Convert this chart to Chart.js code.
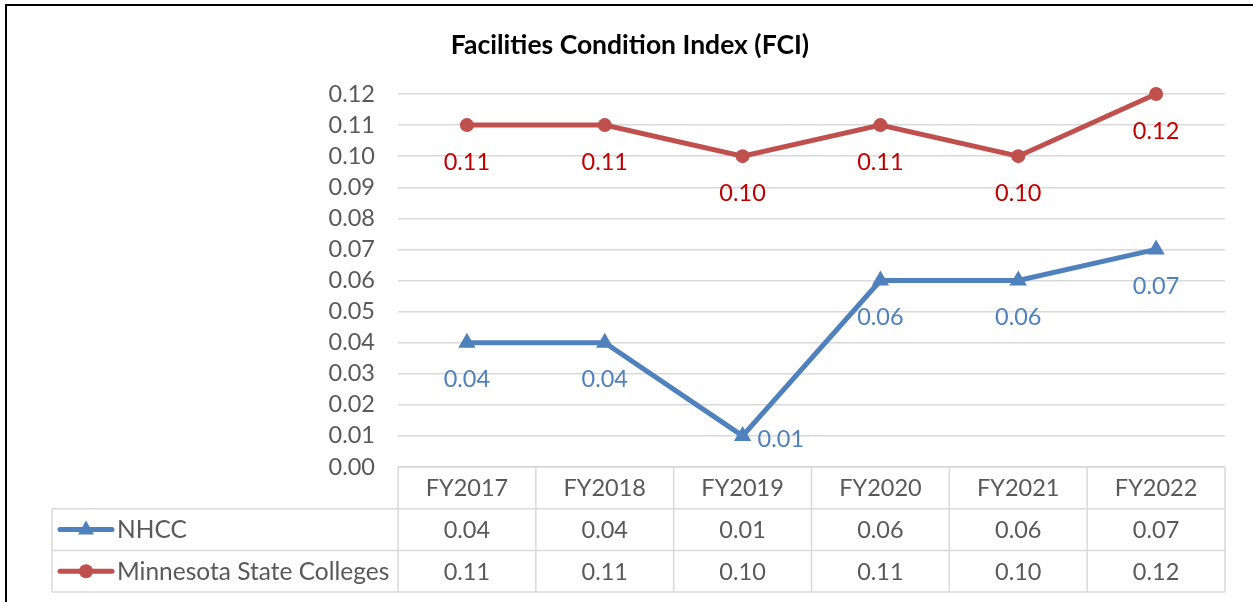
<!DOCTYPE html>
<html>
<head>
<meta charset="utf-8">
<script src="https://cdn.jsdelivr.net/npm/chart.js@4.4.1/dist/chart.umd.min.js"></script>
<style>
  html, body { margin: 0; padding: 0; background: #fff; }
  #wrap { position: relative; width: 1253px; height: 602px; }
</style>
</head>
<body>
<div id="wrap"><canvas id="c" width="1253" height="602"></canvas></div>
<script>
// ---- Data ----
const chartTitle = 'Facilities Condition Index (FCI)';
const categories = ['FY2017', 'FY2018', 'FY2019', 'FY2020', 'FY2021', 'FY2022'];
const seriesNames = ['NHCC', 'Minnesota State Colleges'];
const nhccValues = [0.04, 0.04, 0.01, 0.06, 0.06, 0.07];
const mscValues = [0.11, 0.11, 0.10, 0.11, 0.10, 0.12];
const yMin = 0, yMax = 0.12, yStep = 0.01;

// ---- Styles ----
const FONT = 'Lato, "Open Sans", sans-serif';
const TEXT_GRAY = '#595959';
const GRID = '#d9d9d9';
const BLUE = '#4f81bd';
const RED = '#c0504d';
const BLUE_LABEL = '#4f81bd';
const RED_LABEL = '#c00000';
const NUM_SIZE = 23.5;
// label placement per series (index -> placement), default 'below'
const labelPlacement = [{2: 'right'}, {}];

const framePlugin = {
  id: 'frame',
  beforeDraw(chart) {
    const ctx = chart.ctx;
    ctx.save();
    ctx.fillStyle = '#fff';
    ctx.fillRect(0, 0, chart.width, chart.height);
    ctx.fillStyle = '#000';
    ctx.fillRect(5, 4, chart.width - 5, 2);
    ctx.fillRect(5, 4, 2, chart.height - 4);
    // title
    ctx.font = 'bold 26.5px ' + FONT;
    ctx.textAlign = 'center';
    ctx.textBaseline = 'middle';
    ctx.fillText(chartTitle, 630, 45);
    ctx.restore();
  }
};

const tablePlugin = {
  id: 'dataTable',
  afterDraw(chart) {
    const ctx = chart.ctx;
    const xs = chart.scales.x;
    const area = chart.chartArea;
    const n = categories.length;
    const colW = (area.right - area.left) / n;
    const rowH = 41.7;
    const top = area.bottom;
    const legLeft = 52;
    ctx.save();
    ctx.strokeStyle = GRID;
    ctx.lineWidth = 1.5;
    const hline = (y, x0, x1) => { ctx.beginPath(); ctx.moveTo(x0, y); ctx.lineTo(x1, y); ctx.stroke(); };
    const vline = (x, y0, y1) => { ctx.beginPath(); ctx.moveTo(x, y0); ctx.lineTo(x, y1); ctx.stroke(); };
    hline(top, area.left, area.right);
    for (let r = 1; r <= 3; r++) hline(top + rowH * r, legLeft, area.right);
    for (let i = 0; i <= n; i++) vline(area.left + colW * i, top, top + rowH * 3);
    vline(legLeft, top + rowH, top + rowH * 3);

    ctx.font = NUM_SIZE + 'px ' + FONT;
    ctx.fillStyle = TEXT_GRAY;
    ctx.textAlign = 'center';
    ctx.textBaseline = 'middle';
    categories.forEach((c, i) => {
      ctx.fillText(c, xs.getPixelForValue(i), top + rowH * 0.5 + 1);
    });
    const allVals = [nhccValues, mscValues];
    allVals.forEach((vals, s) => {
      vals.forEach((v, i) => {
        ctx.fillText(v.toFixed(2), xs.getPixelForValue(i), top + rowH * (s + 1.5) + 1);
      });
    });
    // legend keys
    const colors = [BLUE, RED];
    seriesNames.forEach((name, s) => {
      const y = top + rowH * (s + 1.5);
      ctx.strokeStyle = colors[s];
      ctx.lineWidth = 5;
      ctx.lineCap = 'round';
      hline(y, 60, 112);
      ctx.fillStyle = colors[s];
      ctx.beginPath();
      if (s === 0) {
        ctx.moveTo(86, y - 9); ctx.lineTo(94, y + 5); ctx.lineTo(78, y + 5); ctx.closePath();
      } else {
        ctx.arc(86, y, 7, 0, Math.PI * 2);
      }
      ctx.fill();
      ctx.fillStyle = TEXT_GRAY;
      ctx.textAlign = 'left';
      ctx.font = '24.5px ' + FONT;
      ctx.fillText(name, 117, y + 1);
    });
    ctx.restore();
  }
};

const labelPlugin = {
  id: 'pointLabels',
  afterDatasetsDraw(chart) {
    const ctx = chart.ctx;
    ctx.save();
    ctx.font = NUM_SIZE + 'px ' + FONT;
    ctx.textBaseline = 'middle';
    const labelColors = [BLUE_LABEL, RED_LABEL];
    chart.data.datasets.forEach((ds, s) => {
      const meta = chart.getDatasetMeta(s);
      meta.data.forEach((pt, i) => {
        const place = labelPlacement[s][i] || 'below';
        const txt = ds.data[i].toFixed(2);
        ctx.fillStyle = labelColors[s];
        if (place === 'right') {
          ctx.textAlign = 'left';
          ctx.fillText(txt, pt.x + 15, pt.y + 4);
        } else {
          ctx.textAlign = 'center';
          ctx.fillText(txt, pt.x, pt.y + 37);
        }
      });
    });
    ctx.restore();
  }
};

new Chart(document.getElementById('c'), {
  type: 'line',
  data: {
    labels: categories,
    datasets: [
      {
        label: seriesNames[0], data: nhccValues,
        borderColor: BLUE, backgroundColor: BLUE, borderWidth: 5,
        pointStyle: 'triangle', pointRadius: 10, pointBorderWidth: 0,
        pointBackgroundColor: BLUE, tension: 0, clip: false
      },
      {
        label: seriesNames[1], data: mscValues,
        borderColor: RED, backgroundColor: RED, borderWidth: 5,
        pointStyle: 'circle', pointRadius: 7, pointBorderWidth: 0,
        pointBackgroundColor: RED, tension: 0, clip: false
      }
    ]
  },
  options: {
    responsive: false,
    animation: false,
    devicePixelRatio: 1,
    layout: { padding: { left: 0, top: 94, right: 28, bottom: 135 } },
    plugins: { legend: { display: false }, title: { display: false }, tooltip: { enabled: false } },
    scales: {
      x: { type: 'category', offset: true, display: false },
      y: {
        min: yMin, max: yMax,
        afterFit(scale) { scale.width = 398; },
        border: { display: false },
        grid: { color: GRID, lineWidth: 1.5, drawTicks: false },
        ticks: {
          stepSize: yStep, padding: 23, color: TEXT_GRAY, autoSkip: false,
          font: { family: FONT, size: NUM_SIZE },
          callback: v => Number(v).toFixed(2)
        }
      }
    }
  },
  plugins: [framePlugin, tablePlugin, labelPlugin]
});
</script>
</body>
</html>
